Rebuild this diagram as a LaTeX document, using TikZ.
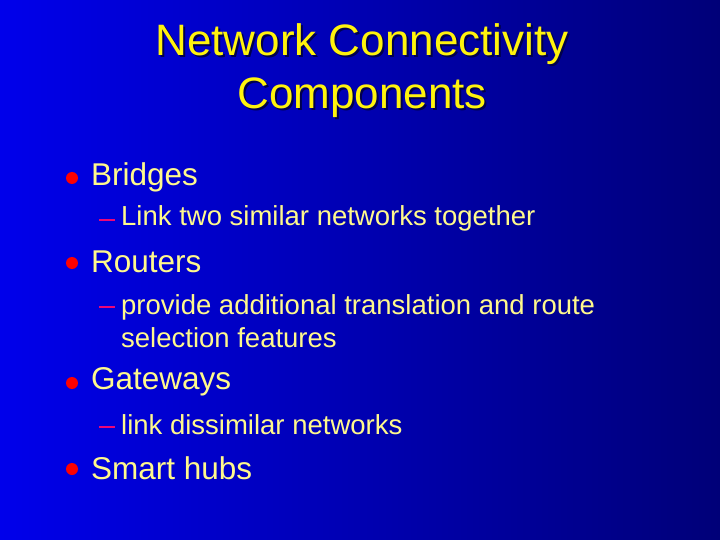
\documentclass[tikz,border=0pt]{standalone}
\usepackage{fontspec}
\setmainfont{Liberation Sans}
\begin{document}
\begin{tikzpicture}[x=1pt,y=-1pt,
  ttl/.style={text=yellow!95!white, font=\fontsize{44}{53}\selectfont, align=center},
  shd/.style={text=black!70!blue, font=\fontsize{44}{53}\selectfont, align=center},
  lvl1/.style={anchor=west, text=yellow!45!white, font=\fontsize{31.5}{36}\selectfont, inner sep=0},
  lvl2/.style={anchor=west, text=yellow!45!white, font=\fontsize{27.5}{33}\selectfont, inner sep=0, align=left},
  dot/.style={circle, fill=red, inner sep=0, minimum size=12pt},
  dsh/.style={draw=magenta!80!red, line width=1.5pt}]
\shade[left color={rgb,255:red,0;green,0;blue,235}, right color={rgb,255:red,0;green,0;blue,120}] (0,0) rectangle (720,540);
\useasboundingbox (0,0) rectangle (720,540);
\node[shd] (ts) at (364,73) {Network Connectivity\\Components};
\node[ttl] (t) at (362,71) {Network Connectivity\\Components};
\node[dot] (d1) at (72,178) {};
\node[lvl1] (b1) at (91,177) {Bridges};
\coordinate (e1a) at (99,220); \coordinate (e1b) at (115,220);
\draw[dsh] (e1a) -- (e1b);
\node[lvl2] (s1) at (121,218) {Link two similar networks together};
\node[dot] (d2) at (72,263) {};
\node[lvl1] (b2) at (91,262) {Routers};
\coordinate (e2a) at (99,307); \coordinate (e2b) at (115,307);
\draw[dsh] (e2a) -- (e2b);
\node[lvl2, anchor=west] (s2) at (121,321) {provide additional translation and route\\selection features};
\node[dot] (d3) at (72,383) {};
\node[lvl1] (b3) at (91,382) {Gateways};
\coordinate (e3a) at (99,427); \coordinate (e3b) at (115,427);
\draw[dsh] (e3a) -- (e3b);
\node[lvl2] (s3) at (121,425) {link dissimilar networks};
\node[dot] (d4) at (72,469) {};
\node[lvl1] (b4) at (91,468) {Smart hubs};
\end{tikzpicture}
\end{document}
